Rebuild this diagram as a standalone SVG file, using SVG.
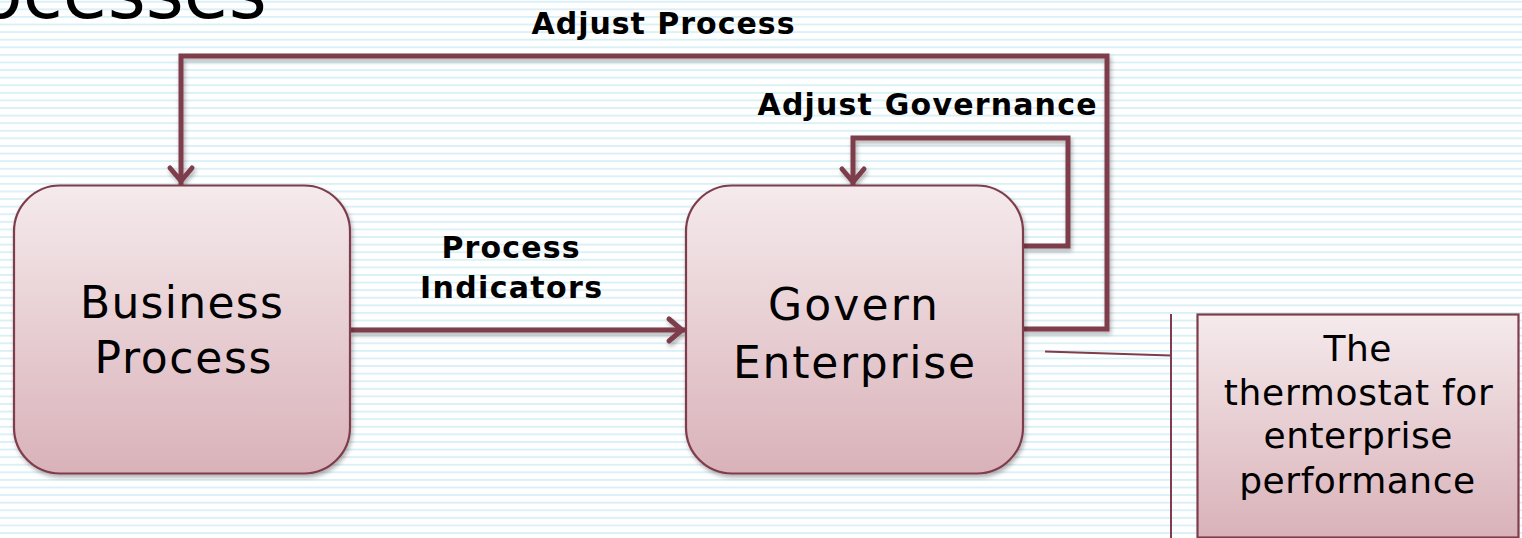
<svg xmlns="http://www.w3.org/2000/svg" width="1522" height="538" viewBox="0 0 1522 538">
  <defs>
    <pattern id="stripes" patternUnits="userSpaceOnUse" x="0" y="0.8" width="20" height="7.59">
      <rect x="0" y="0" width="20" height="1.8" fill="#d9f0f7"/>
    </pattern>
    <linearGradient id="boxFill" x1="0" y1="0" x2="0" y2="1">
      <stop offset="0" stop-color="#f5eaec"/>
      <stop offset="1" stop-color="#d9b2b9"/>
    </linearGradient>
    <filter id="shadow" filterUnits="userSpaceOnUse" x="0" y="0" width="1522" height="538">
      <feDropShadow dx="1.5" dy="3" stdDeviation="2" flood-color="#000" flood-opacity="0.3"/>
    </filter>
    <marker id="chev" markerUnits="userSpaceOnUse" viewBox="-24 -16 28 32" refX="0" refY="0" markerWidth="28" markerHeight="32" orient="auto">
      <path d="M-17,-11 L-4,0 L-17,11" fill="none" stroke="#7e3c4c" stroke-width="5" stroke-linecap="round" stroke-linejoin="miter"/>
    </marker>
  </defs>
  <style>
    .box { fill: url(#boxFill); stroke: #7e3c4c; stroke-width: 2.2; filter: url(#shadow); }
    .conn { fill: none; stroke: #7e3c4c; stroke-width: 5; stroke-linejoin: miter; filter: url(#shadow); }
    .big { font-family: "DejaVu Sans", "Liberation Sans", sans-serif; font-size: 44px; fill: #000; text-anchor: middle; }
    .call { font-family: "DejaVu Sans", "Liberation Sans", sans-serif; font-size: 36px; fill: #000; text-anchor: middle; }
    .lbl { font-family: "DejaVu Sans", "Liberation Sans", sans-serif; font-weight: bold; font-size: 30px; fill: #000; text-anchor: middle; }
    .thin { fill: none; stroke: #7e3c4c; stroke-width: 2; }
  </style>

  <rect x="0" y="0" width="1522" height="538" fill="#ffffff"/>
  <rect x="0" y="0" width="1522" height="538" fill="url(#stripes)"/>

  <text x="-22" y="17.5" font-family="DejaVu Sans, sans-serif" font-size="73" fill="#000">ocesses</text>

  <g id="connectors">
    <path id="adjust-process" class="conn" d="M1023,329 L1107,329 L1107,56 L181,56 L181,185" marker-end="url(#chev)"/>
    <path id="adjust-governance" class="conn" d="M1023,246 L1068,246 L1068,138 L853,138 L853,186" marker-end="url(#chev)"/>
    <path id="process-indicators" class="conn" d="M350,330 L686,330" marker-end="url(#chev)"/>
    <path id="callout-line" class="thin" d="M1045,351.5 L1171,355.5"/>
    <path id="callout-bracket" class="thin" d="M1171,314 L1171,540"/>
  </g>

  <g id="labels">
    <text class="lbl" x="663" y="34" textLength="263" lengthAdjust="spacing">Adjust Process</text>
    <text class="lbl" x="927" y="115" textLength="339" lengthAdjust="spacing">Adjust Governance</text>
    <text class="lbl" x="510.5" y="258" textLength="138" lengthAdjust="spacing">Process</text>
    <text class="lbl" x="511" y="298" textLength="182" lengthAdjust="spacing">Indicators</text>
  </g>

  <g id="business-process">
    <rect class="box" x="14" y="185.5" width="336" height="288" rx="46" ry="46"/>
    <text class="big" x="181.5" y="318" textLength="203" lengthAdjust="spacing">Business</text>
    <text class="big" x="183" y="373" textLength="177" lengthAdjust="spacing">Process</text>
  </g>

  <g id="govern-enterprise">
    <rect class="box" x="686" y="185.5" width="337" height="288" rx="46" ry="46"/>
    <text class="big" x="853" y="320" textLength="170" lengthAdjust="spacing">Govern</text>
    <text class="big" x="854" y="378" textLength="242" lengthAdjust="spacing">Enterprise</text>
  </g>

  <g id="thermostat-note">
    <rect class="box" x="1197.5" y="314.5" width="321" height="223" style="filter:none"/>
    <text class="call" x="1357.5" y="361" textLength="68" lengthAdjust="spacing">The</text>
    <text class="call" x="1358.3" y="405" textLength="269" lengthAdjust="spacing">thermostat for</text>
    <text class="call" x="1358" y="448" textLength="189" lengthAdjust="spacing">enterprise</text>
    <text class="call" x="1357.2" y="493" textLength="236" lengthAdjust="spacing">performance</text>
  </g>
</svg>
